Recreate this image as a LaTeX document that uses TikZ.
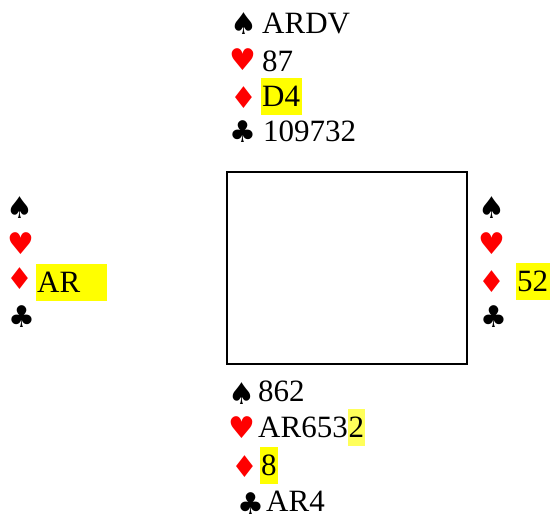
\documentclass[tikz,border=0pt]{standalone}
\usepackage{fontspec}
\setmainfont{Liberation Serif}
\newfontfamily\suitf{DejaVu Sans}
\definecolor{hl}{RGB}{255,255,0}
\definecolor{hlpale}{RGB}{255,255,90}
\definecolor{suitred}{RGB}{255,0,0}
\begin{document}
\begin{tikzpicture}[x=1pt,y=-1pt,
  card/.style={anchor=base west,inner sep=0pt,font=\fontsize{31}{37}\selectfont},
  hilite/.style={card,fill=hl,inner xsep=1.5pt,text height=29pt,text depth=8pt},
  suitblack/.style={inner sep=0pt,font=\suitf\fontsize{30}{30}\selectfont,text=black},
  suitredst/.style={inner sep=0pt,font=\suitf\fontsize{30}{30}\selectfont,text=suitred},
  tablebox/.style={draw=black,line width=1.6pt,inner sep=0pt}]
\useasboundingbox (0,0) rectangle (550,518);
% table
\node[tablebox,minimum width=240pt,minimum height=192pt] (tbl) at (347,268) {};
% North
\node[suitblack] (ns) at (244,24) {♠};
\node[suitredst] (nh) at (242.5,60) {♥};
\node[suitredst] (nd) at (244,98) {♦};
\node[suitblack] (nc) at (243,132) {♣};
\node[card] (nst) at (262,34) {ARDV};
\node[card] (nht) at (262,72) {87};
\node[hilite] (ndt) at (260.5,107) {D4};
\node[card] (nct) at (263,142) {109732};
% West
\node[suitblack] (ws) at (20,208) {♠};
\node[suitredst] (wh) at (21,244) {♥};
\node[suitredst] (wd) at (20,279) {♦};
\node[suitblack] (wc) at (22,317) {♣};
\node[hilite,text width=68pt,align=left] (wdt) at (35.5,293) {AR};
% East
\node[suitblack] (es) at (492,208) {♠};
\node[suitredst] (eh) at (492,244) {♥};
\node[suitredst] (ed) at (492,282) {♦};
\node[suitblack] (ec) at (494,317) {♣};
\node[hilite] (edt) at (515.5,292) {52};
% South
\node[suitblack] (ss) at (241.5,394) {♠};
\node[suitredst] (sh) at (242,428) {♥};
\node[suitredst] (sd) at (244.5,467) {♦};
\node[suitblack] (sc) at (251,504) {♣};
\node[card] (sst) at (258,402) {862};
\node[card] (sht) at (258,438) {AR653};
\node[hilite,fill=hlpale,inner xsep=0.5pt] (sht2) at (sht.base east) {2};
\node[hilite] (sdt) at (259.5,476) {8};
\node[card] (sct) at (266,512) {AR4};
\end{tikzpicture}
\end{document}
